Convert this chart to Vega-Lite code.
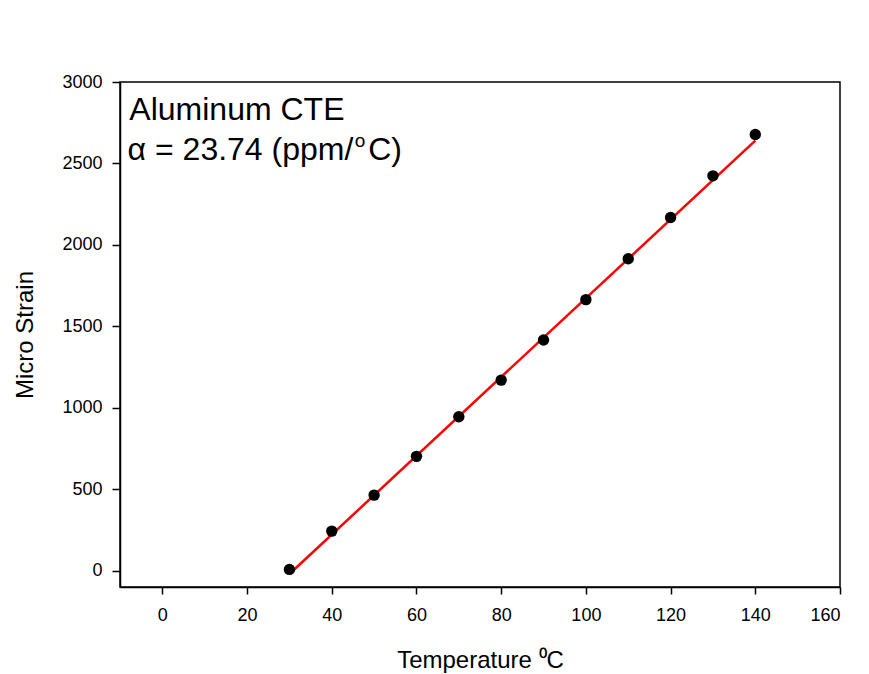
{
  "$schema": "https://vega.github.io/schema/vega-lite/v6.json",
  "autosize": "none",
  "width": 720,
  "height": 505,
  "padding": {"left": 120, "top": 82, "right": 29, "bottom": 87},
  "background": "white",
  "config": {
    "font": "Liberation Sans",
    "view": {"stroke": "black", "strokeWidth": 1.5},
    "axis": {
      "grid": false,
      "domainColor": "black",
      "tickColor": "black",
      "labelColor": "black",
      "titleColor": "black",
      "labelFont": "Liberation Sans",
      "titleFont": "Liberation Sans",
      "titleFontWeight": "normal",
      "labelFontSize": 18,
      "titleFontSize": 24,
      "tickWidth": 1.5,
      "domainWidth": 1.5
    }
  },
  "datasets": {
    "points": [
      {"temp": 30, "strain": 8},
      {"temp": 40, "strain": 243},
      {"temp": 50, "strain": 464},
      {"temp": 60, "strain": 702},
      {"temp": 70, "strain": 945},
      {"temp": 80, "strain": 1170},
      {"temp": 90, "strain": 1416},
      {"temp": 100, "strain": 1664},
      {"temp": 110, "strain": 1915},
      {"temp": 120, "strain": 2168},
      {"temp": 130, "strain": 2424},
      {"temp": 140, "strain": 2678}
    ],
    "fit": [
      {"temp": 30, "strain": -20},
      {"temp": 140, "strain": 2640}
    ]
  },
  "layer": [
    {
      "data": {"name": "fit"},
      "mark": {"type": "line", "color": "#ff0000", "strokeWidth": 2.5},
      "encoding": {
        "x": {
          "field": "temp",
          "type": "quantitative",
          "scale": {"domain": [-10, 160], "nice": false, "zero": false},
          "axis": {
            "title": "Temperature ⁰C",
            "values": [0, 20, 40, 60, 80, 100, 120, 140, 160],
            "tickSize": 7,
            "labelPadding": 12,
            "titleY": 80,
            "titleBaseline": "alphabetic"
          }
        },
        "y": {
          "field": "strain",
          "type": "quantitative",
          "scale": {"domain": [-100, 3000], "nice": false, "zero": false},
          "axis": {
            "title": "Micro Strain",
            "values": [0, 500, 1000, 1500, 2000, 2500, 3000],
            "format": "d",
            "tickSize": 8,
            "labelPadding": 10,
            "titleX": -88,
            "titleBaseline": "alphabetic"
          }
        }
      }
    },
    {
      "data": {"name": "points"},
      "mark": {"type": "circle", "color": "black", "opacity": 1, "size": 130},
      "encoding": {
        "x": {"field": "temp", "type": "quantitative"},
        "y": {"field": "strain", "type": "quantitative"}
      }
    },
    {
      "data": {"values": [{"label": "Aluminum CTE"}]},
      "mark": {"type": "text", "align": "left", "baseline": "alphabetic", "fontSize": 32, "color": "black"},
      "encoding": {
        "x": {"datum": -7.8},
        "y": {"datum": 2765},
        "text": {"field": "label"}
      }
    },
    {
      "data": {"values": [{"label": "α = 23.74 (ppm/"}]},
      "mark": {"type": "text", "align": "left", "baseline": "alphabetic", "fontSize": 32, "color": "black"},
      "encoding": {
        "x": {"datum": -8.2},
        "y": {"datum": 2519},
        "text": {"field": "label"}
      }
    },
    {
      "data": {"values": [{"label": "o"}]},
      "mark": {"type": "text", "align": "left", "baseline": "alphabetic", "fontSize": 19, "color": "black"},
      "encoding": {
        "x": {"datum": 45.4},
        "y": {"datum": 2599},
        "text": {"field": "label"}
      }
    },
    {
      "data": {"values": [{"label": "C)"}]},
      "mark": {"type": "text", "align": "left", "baseline": "alphabetic", "fontSize": 32, "color": "black"},
      "encoding": {
        "x": {"datum": 48.6},
        "y": {"datum": 2519},
        "text": {"field": "label"}
      }
    }
  ]
}
